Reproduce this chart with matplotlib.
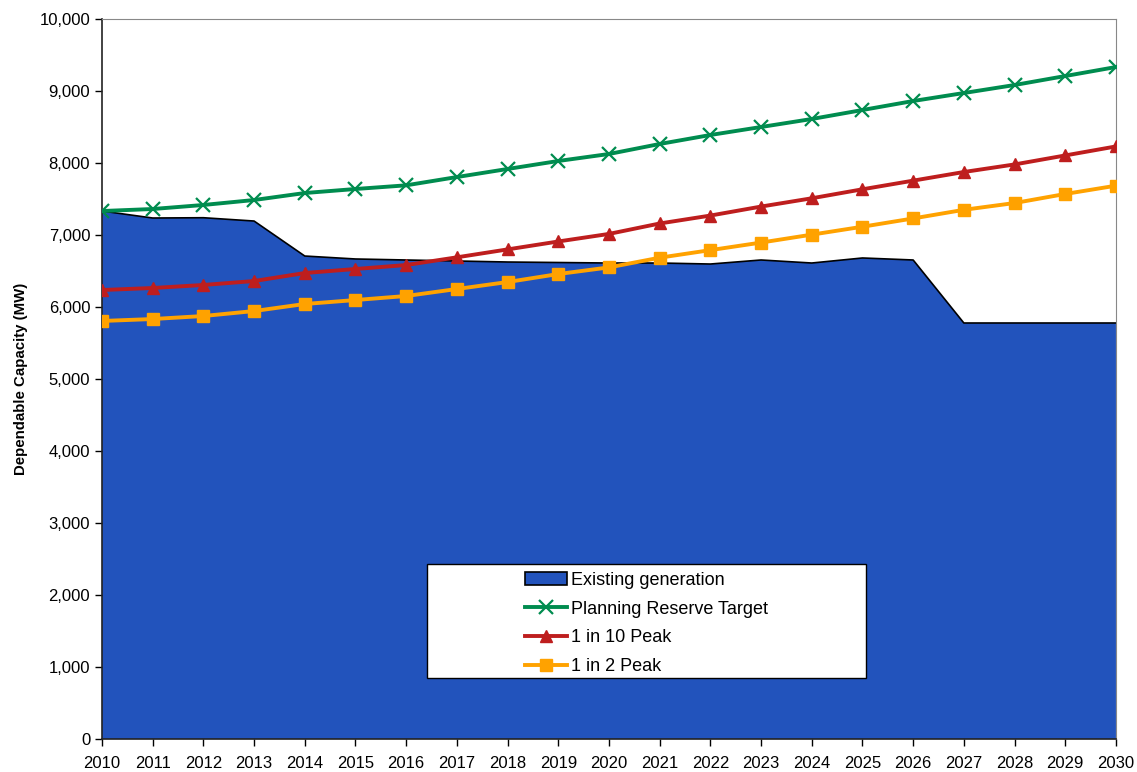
import numpy as np
import matplotlib.pyplot as plt
from matplotlib.patches import Rectangle, Patch
from matplotlib.ticker import FuncFormatter

plt.rcParams['font.family'] = ['Liberation Sans', 'DejaVu Sans']

years = list(range(2010, 2031))

existing = [7333, 7236, 7240, 7194, 6708, 6667, 6653, 6639, 6625, 6618, 6611,
            6611, 6597, 6653, 6611, 6681, 6653, 5778, 5778, 5778, 5778]
reserve = [7333, 7361, 7417, 7486, 7583, 7639, 7690, 7805, 7917, 8028, 8125,
           8264, 8389, 8500, 8611, 8736, 8861, 8972, 9083, 9208, 9333]
peak10 = [6236, 6264, 6306, 6361, 6472, 6528, 6583, 6690, 6800, 6910, 7015,
          7160, 7270, 7395, 7510, 7635, 7755, 7875, 7980, 8105, 8230]
peak2 = [5806, 5833, 5875, 5944, 6042, 6097, 6153, 6250, 6347, 6458, 6550,
         6685, 6790, 6895, 7005, 7115, 7230, 7350, 7444, 7570, 7685]

fig = plt.figure(figsize=(11.37, 7.72), dpi=100)
ax = fig.add_axes([0.0897, 0.0427, 0.8918, 0.9327])

ax.fill_between(years, existing, 0, color='#2253BC', edgecolor='none', zorder=1,
                label='Existing generation')
ax.plot(years, existing, color='black', lw=1.2, zorder=2)
ax.plot(years, reserve, color='#008C4F', lw=2.8, marker='x', ms=10, mew=1.6,
        label='Planning Reserve Target', zorder=4)
ax.plot(years, peak10, color='#BE1E1E', lw=2.8, marker='^', ms=9,
        label='1 in 10 Peak', zorder=4)
ax.plot(years, peak2, color='#FFA200', lw=2.8, marker='s', ms=9,
        label='1 in 2 Peak', zorder=4)

ax.set_xlim(2010, 2030)
ax.set_ylim(0, 10000)
ax.set_xticks(years)
ax.set_yticks(range(0, 10001, 1000))
ax.yaxis.set_major_formatter(FuncFormatter(lambda v, p: f'{int(v):,}'))
ax.tick_params(axis='both', direction='out', length=5, labelsize=12, width=1)
ax.tick_params(axis='x', pad=7)
ax.set_ylabel('Dependable Capacity (MW)', fontsize=10.8, fontweight='bold', labelpad=8)

for s in ['top', 'right']:
    ax.spines[s].set_color('#888888')
for s in ['left', 'bottom']:
    ax.spines[s].set_color('#222222')
    ax.spines[s].set_linewidth(1.2)

# legend box
ax.add_patch(Rectangle((0.3205, 0.0847), 0.433, 0.158, transform=ax.transAxes,
                       facecolor='white', edgecolor='black', lw=1, zorder=5))
h, l = ax.get_legend_handles_labels()
h[0] = Patch(facecolor='#2253BC', edgecolor='black', lw=1.2)
leg = ax.legend(h, l, loc='upper left', bbox_to_anchor=(0.4172, 0.2325),
                frameon=False, fontsize=13, handlelength=2.3, labelspacing=0.66,
                handletextpad=0.25, borderaxespad=0, borderpad=0)
leg.set_zorder(6)

fig.savefig('out.png', dpi=100)
